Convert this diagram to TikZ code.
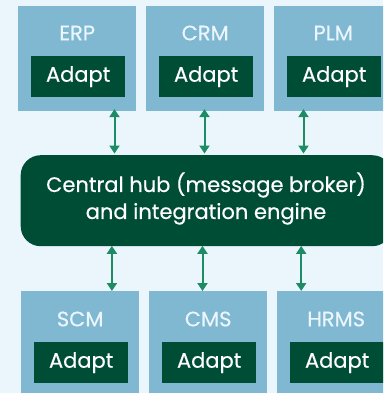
\documentclass[tikz,border=0pt]{standalone}
\usepackage{fontspec}
\setmainfont{Poppins}[UprightFeatures={FakeBold=0.4}]
\usetikzlibrary{arrows.meta,calc}
\definecolor{bg}{HTML}{EAF6FC}
\definecolor{sysblue}{HTML}{80B8D1}
\definecolor{darkgreen}{HTML}{004D35}
\definecolor{arrgreen}{HTML}{1B8C63}
\definecolor{lighttext}{HTML}{EAF6FC}
\tikzset{
  sysbox/.style={fill=sysblue, draw=none, minimum width=118pt, minimum height=104.7pt, inner sep=0pt, anchor=north west},
  adaptbox/.style={fill=darkgreen, draw=none, minimum width=94pt, minimum height=41pt, inner sep=0pt, anchor=north west, text=white, font=\fontsize{21}{24}\selectfont},
  syslabel/.style={text=lighttext, font=\fontsize{21}{24}\selectfont, inner sep=0pt},
  hubbox/.style={fill=darkgreen, draw=none, rounded corners=20pt, minimum width=371.5pt, minimum height=91pt, inner sep=0pt, anchor=north west},
  hubtext/.style={text=white, font=\fontsize{21}{27}\selectfont, align=center, inner sep=0pt},
  arr/.style={draw=arrgreen, line width=2pt, {Triangle[width=10pt,length=8pt]}-{Triangle[width=10pt,length=8pt]}}
}
\begin{document}
\begin{tikzpicture}[x=1pt,y=-1pt]
\fill[bg] (0,0) rectangle (383,393);
\useasboundingbox (0,0) rectangle (383,393);
\begin{scope}
\clip (0,0) rectangle (383,393);
% top row
\node[sysbox] (erp) at (18,6) {};
\node[sysbox] (crm) at (146,6) {};
\node[sysbox] (plm) at (274,6) {};
\node[syslabel] (erpl) at ($(erp.north)+(0,27)$) {ERP};
\node[syslabel] (crml) at ($(crm.north)+(0,27)$) {CRM};
\node[syslabel] (plml) at ($(plm.north)+(0,27)$) {PLM};
\node[adaptbox] (erpa) at (31,56) {Adapt};
\node[adaptbox] (crma) at (159,56) {Adapt};
\node[adaptbox] (plma) at (287,56) {Adapt};
% hub
\node[hubbox] (hub) at (20.5,155) {};
\node[hubtext] (hubt) at (206,198.5) {Central hub (message broker)\\and integration engine};
% bottom row
\node[sysbox] (scm) at (21,291) {};
\node[sysbox] (cms) at (149,291) {};
\node[sysbox] (hrms) at (277,291) {};
\node[syslabel] (scml) at ($(scm.north)+(0,28)$) {SCM};
\node[syslabel] (cmsl) at ($(cms.north)+(0,28)$) {CMS};
\node[syslabel] (hrmsl) at ($(hrms.north)+(0,28)$) {HRMS};
\node[adaptbox] (scma) at (34,342) {Adapt};
\node[adaptbox] (cmsa) at (162,342) {Adapt};
\node[adaptbox] (hrmsa) at (290,342) {Adapt};
% connectors
\coordinate (t1) at ([xshift=37.3pt,yshift=2pt]erp.south);
\coordinate (t2) at ([xshift=-0.7pt,yshift=2pt]crm.south);
\coordinate (t3) at ([xshift=-29.7pt,yshift=2pt]plm.south);
\draw[arr] (t1) -- ([yshift=1.5pt]t1 |- hub.north);
\draw[arr] (t2) -- ([yshift=1.5pt]t2 |- hub.north);
\draw[arr] (t3) -- ([yshift=1.5pt]t3 |- hub.north);
\coordinate (b1) at ([xshift=31.7pt]scm.north);
\coordinate (b2) at ([xshift=-5.7pt]cms.north);
\coordinate (b3) at ([xshift=-35pt]hrms.north);
\draw[arr] ([yshift=0.5pt]b1 |- hub.south) -- (b1);
\draw[arr] ([yshift=0.5pt]b2 |- hub.south) -- (b2);
\draw[arr] ([yshift=0.5pt]b3 |- hub.south) -- (b3);
\end{scope}
\end{tikzpicture}
\end{document}
